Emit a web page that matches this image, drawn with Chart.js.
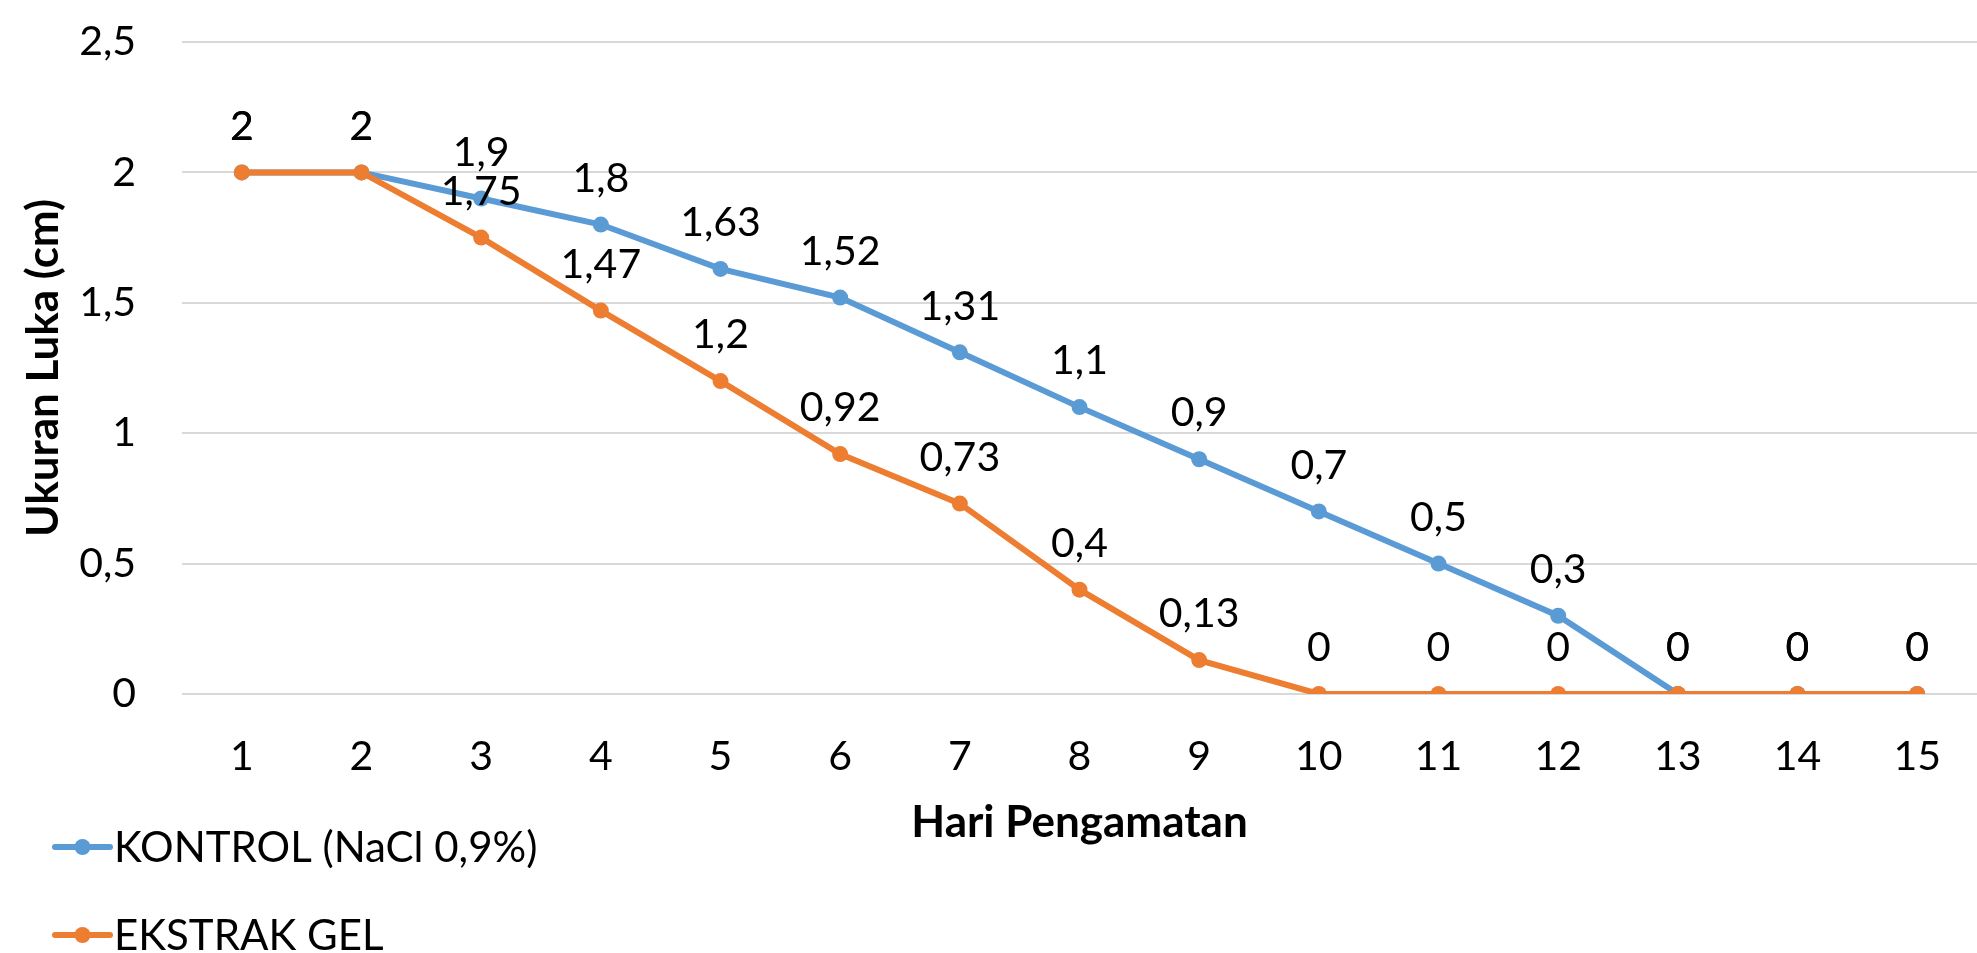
<!DOCTYPE html>
<html>
<head>
<meta charset="utf-8">
<script src="https://cdn.jsdelivr.net/npm/chart.js@4/dist/chart.umd.min.js"></script>
<style>
  html, body { margin: 0; padding: 0; background: #ffffff; overflow: hidden; }
  #wrap { position: relative; width: 1977px; height: 953px; }
</style>
</head>
<body>
<div id="wrap"><canvas id="chart" width="1977" height="953"></canvas></div>
<script>
// Observation days (x categories)
const days = ['1', '2', '3', '4', '5', '6', '7', '8', '9', '10', '11', '12', '13', '14', '15'];
// Wound size (cm) per day
const kontrolValues = [2, 2, 1.9, 1.8, 1.63, 1.52, 1.31, 1.1, 0.9, 0.7, 0.5, 0.3, 0, 0, 0];
const ekstrakValues = [2, 2, 1.75, 1.47, 1.2, 0.92, 0.73, 0.4, 0.13, 0, 0, 0, 0, 0, 0];
// Y axis ticks
const yTickValues = [0, 0.5, 1, 1.5, 2, 2.5];
const seriesNames = ['KONTROL (NaCl 0,9%)', 'EKSTRAK GEL'];
const seriesColors = ['#5B9BD5', '#ED7D31'];
const xTitle = 'Hari Pengamatan';
const yTitle = 'Ukuran Luka (cm)';

const FONT = 'Lato, "Open Sans", sans-serif';
const fmt = v => String(Math.round(v * 100) / 100).replace('.', ',');

// Value labels above each point
const valueLabels = {
  id: 'valueLabels',
  afterDatasetsDraw(chart) {
    const ctx = chart.ctx;
    ctx.save();
    ctx.font = '41px ' + FONT;
    ctx.fillStyle = '#000000';
    ctx.textAlign = 'center';
    ctx.textBaseline = 'middle';
    chart.data.datasets.forEach((ds, di) => {
      const meta = chart.getDatasetMeta(di);
      meta.data.forEach((pt, i) => {
        ctx.fillText(fmt(ds.data[i]), pt.x, pt.y - 46);
      });
    });
    ctx.restore();
  }
};

// Vertical legend in the lower-left corner
const sideLegend = {
  id: 'sideLegend',
  afterDraw(chart) {
    const ctx = chart.ctx;
    ctx.save();
    const rows = [847, 935];
    chart.data.datasets.forEach((ds, i) => {
      const y = rows[i];
      ctx.strokeStyle = ds.borderColor;
      ctx.lineWidth = 6;
      ctx.lineCap = 'round';
      ctx.beginPath();
      ctx.moveTo(55, y);
      ctx.lineTo(110, y);
      ctx.stroke();
      ctx.fillStyle = ds.borderColor;
      ctx.beginPath();
      ctx.arc(82.5, y, 8, 0, Math.PI * 2);
      ctx.fill();
      ctx.fillStyle = '#000000';
      ctx.font = '42px ' + FONT;
      ctx.textAlign = 'left';
      ctx.textBaseline = 'middle';
      ctx.fillText(ds.label, 114, y + 1);
    });
    ctx.restore();
  }
};

const makeSeries = (name, values, color, order) => ({
  label: name,
  data: values,
  borderColor: color,
  backgroundColor: color,
  borderWidth: 6,
  pointRadius: 8,
  pointHoverRadius: 8,
  pointBorderWidth: 0,
  tension: 0,
  order: order
});

new Chart(document.getElementById('chart'), {
  type: 'line',
  data: {
    labels: days,
    datasets: [
      makeSeries(seriesNames[0], kontrolValues, seriesColors[0], 1),
      makeSeries(seriesNames[1], ekstrakValues, seriesColors[1], 0)
    ]
  },
  options: {
    responsive: false,
    animation: false,
    layout: { autoPadding: false, padding: { top: 42, right: 0, left: 0, bottom: 0 } },
    plugins: {
      legend: { display: false },
      tooltip: { enabled: false }
    },
    scales: {
      x: {
        type: 'category',
        offset: true,
        grid: { display: false, drawTicks: false },
        border: { display: false },
        ticks: {
          color: '#000000',
          font: { family: FONT, size: 41 },
          padding: 38,
          maxRotation: 0,
          autoSkip: false
        },
        title: {
          display: true,
          text: xTitle,
          color: '#000000',
          font: { family: FONT, size: 44, weight: 'bold' },
          padding: { top: 0, bottom: 104 }
        },
        afterFit(scale) {
          scale.height = 259;
          scale.paddingLeft = 0;
          scale.paddingRight = 0;
        }
      },
      y: {
        min: 0,
        max: 2.5,
        afterBuildTicks(scale) { scale.ticks = yTickValues.map(v => ({ value: v })); },
        grid: { color: '#D9D9D9', lineWidth: 2, drawTicks: false },
        border: { display: false },
        ticks: {
          color: '#000000',
          font: { family: FONT, size: 41 },
          padding: 46,
          callback: v => fmt(v)
        },
        title: {
          display: true,
          text: yTitle,
          color: '#000000',
          font: { family: FONT, size: 44, weight: 'bold' },
          padding: { top: 17, bottom: 0 }
        },
        afterFit(scale) {
          scale.width = 182;
          scale.paddingTop = 0;
          scale.paddingBottom = 0;
        }
      }
    }
  },
  plugins: [valueLabels, sideLegend]
});
</script>
</body>
</html>
